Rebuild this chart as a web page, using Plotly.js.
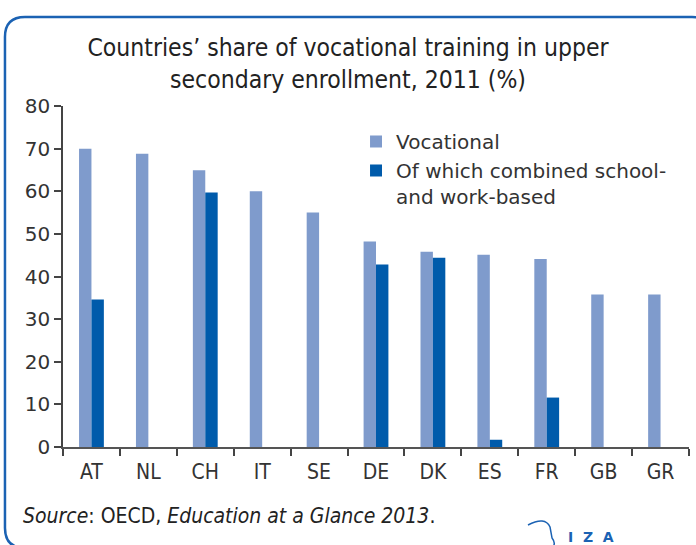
<!DOCTYPE html>
<html>
<head>
<meta charset="utf-8">
<script src="https://cdn.plot.ly/plotly-3.0.1.min.js"></script>
<style>
html,body{margin:0;padding:0;background:#fff;}
#chart{width:696px;height:545px;}
</style>
</head>
<body>
<div id="chart"></div>
<script>
const countries = ["AT","NL","CH","IT","SE","DE","DK","ES","FR","GB","GR"];
const vocational = [70, 68.8, 64.9, 60, 55, 48.2, 45.8, 45.1, 44.1, 35.8, 35.8];
const combined = [34.6, null, 59.7, null, null, 42.8, 44.4, 1.7, 11.6, null, null];
const yTicks = [0,10,20,30,40,50,60,70,80];

const L = 63, T = 106, W = 626, H = 341;
function px(x){ return +((x - L) / W).toFixed(4); }
function py(y){ return +((T + H - y) / H).toFixed(4); }
function pathFrom(pts){
  return pts.map(p => {
    if (p[0] === 'Z') return 'Z';
    const out = [p[0]];
    for (let i = 1; i < p.length; i += 2) out.push(px(p[i]) + ',' + py(p[i+1]));
    return out.join(' ');
  }).join(' ');
}
const blue = '#1b62b3';
const cond = '"DejaVu Sans Condensed", "DejaVu Sans", sans-serif';
const reg = '"DejaVu Sans", sans-serif';
const border = pathFrom([
  ['M',5,37],['Q',5,17,25,17],['L',692,17],['Q',712,17,712,37],
  ['L',712,528],['Q',712,548,692,548],['L',25,548],['Q',5,548,5,528],['Z']
]);
const logo = pathFrom([
  ['M',528,525],['Q',545,516,550,527],['L',552,538],['Q',556,543,553,547]
]);

const data = [
  {type:'bar', name:'Vocational', x:countries, y:vocational,
   marker:{color:'#7f9bcc'}, hoverinfo:'x+y'},
  {type:'bar', name:'Of which combined school-<br>and work-based', x:countries, y:combined,
   marker:{color:'#005bab'}, hoverinfo:'x+y'}
];

const layout = {
  width:696, height:545,
  margin:{l:L, r:696-L-W, t:T, b:545-T-H},
  paper_bgcolor:'rgba(0,0,0,0)', plot_bgcolor:'rgba(0,0,0,0)',
  barmode:'group', bargap:0.564, bargroupgap:0,
  title:{text:"Countries’ share of vocational training in upper<br>secondary enrollment, 2011 (%)",
    font:{family:cond, size:24.5, color:'#222'},
    xref:'container', x:0.5, xanchor:'center', yref:'container', y:1-56/545, yanchor:'top'},
  xaxis:{type:'category', showline:true, linecolor:'#555', linewidth:2,
    ticks:'outside', tickson:'boundaries', ticklen:7, tickwidth:1.5, tickcolor:'#444',
    tickfont:{family:cond, size:21, color:'#333'}, tickangle:0, ticklabelstandoff:5,
    showgrid:false, zeroline:false, fixedrange:true, automargin:false},
  yaxis:{range:[0,80], tickvals:yTicks, showline:true, linecolor:'#444', linewidth:1.5,
    ticks:'outside', ticklen:7, tickwidth:1.5, tickcolor:'#444',
    tickfont:{family:reg, size:20, color:'#333'},
    showgrid:false, zeroline:false, fixedrange:true, automargin:false},
  legend:{x:px(356), y:py(122), xanchor:'left', yanchor:'top',
    font:{family:reg, size:20, color:'#333'},
    valign:'top', bgcolor:'rgba(0,0,0,0)', tracegroupgap:1, traceorder:'normal'},
  showlegend:true,
  shapes:[
    {type:'path', xref:'paper', yref:'paper', path:border, line:{color:blue, width:2.5}, layer:'below'},
    {type:'path', xref:'paper', yref:'paper', path:logo, line:{color:blue, width:1.5}}
  ],
  annotations:[
    {xref:'paper', yref:'paper', x:px(21), y:py(516), xanchor:'left', yanchor:'middle', showarrow:false,
     text:'<i>Source</i>: OECD, <i>Education at a Glance 2013</i>.',
     font:{family:cond, size:21, color:'#222'}},
    {xref:'paper', yref:'paper', x:px(591), y:py(537), xanchor:'center', yanchor:'middle', showarrow:false,
     text:'<b>I  Z  A</b>', font:{family:reg, size:14, color:blue}}
  ]
};

Plotly.newPlot('chart', data, layout, {displayModeBar:false});
</script>
</body>
</html>
